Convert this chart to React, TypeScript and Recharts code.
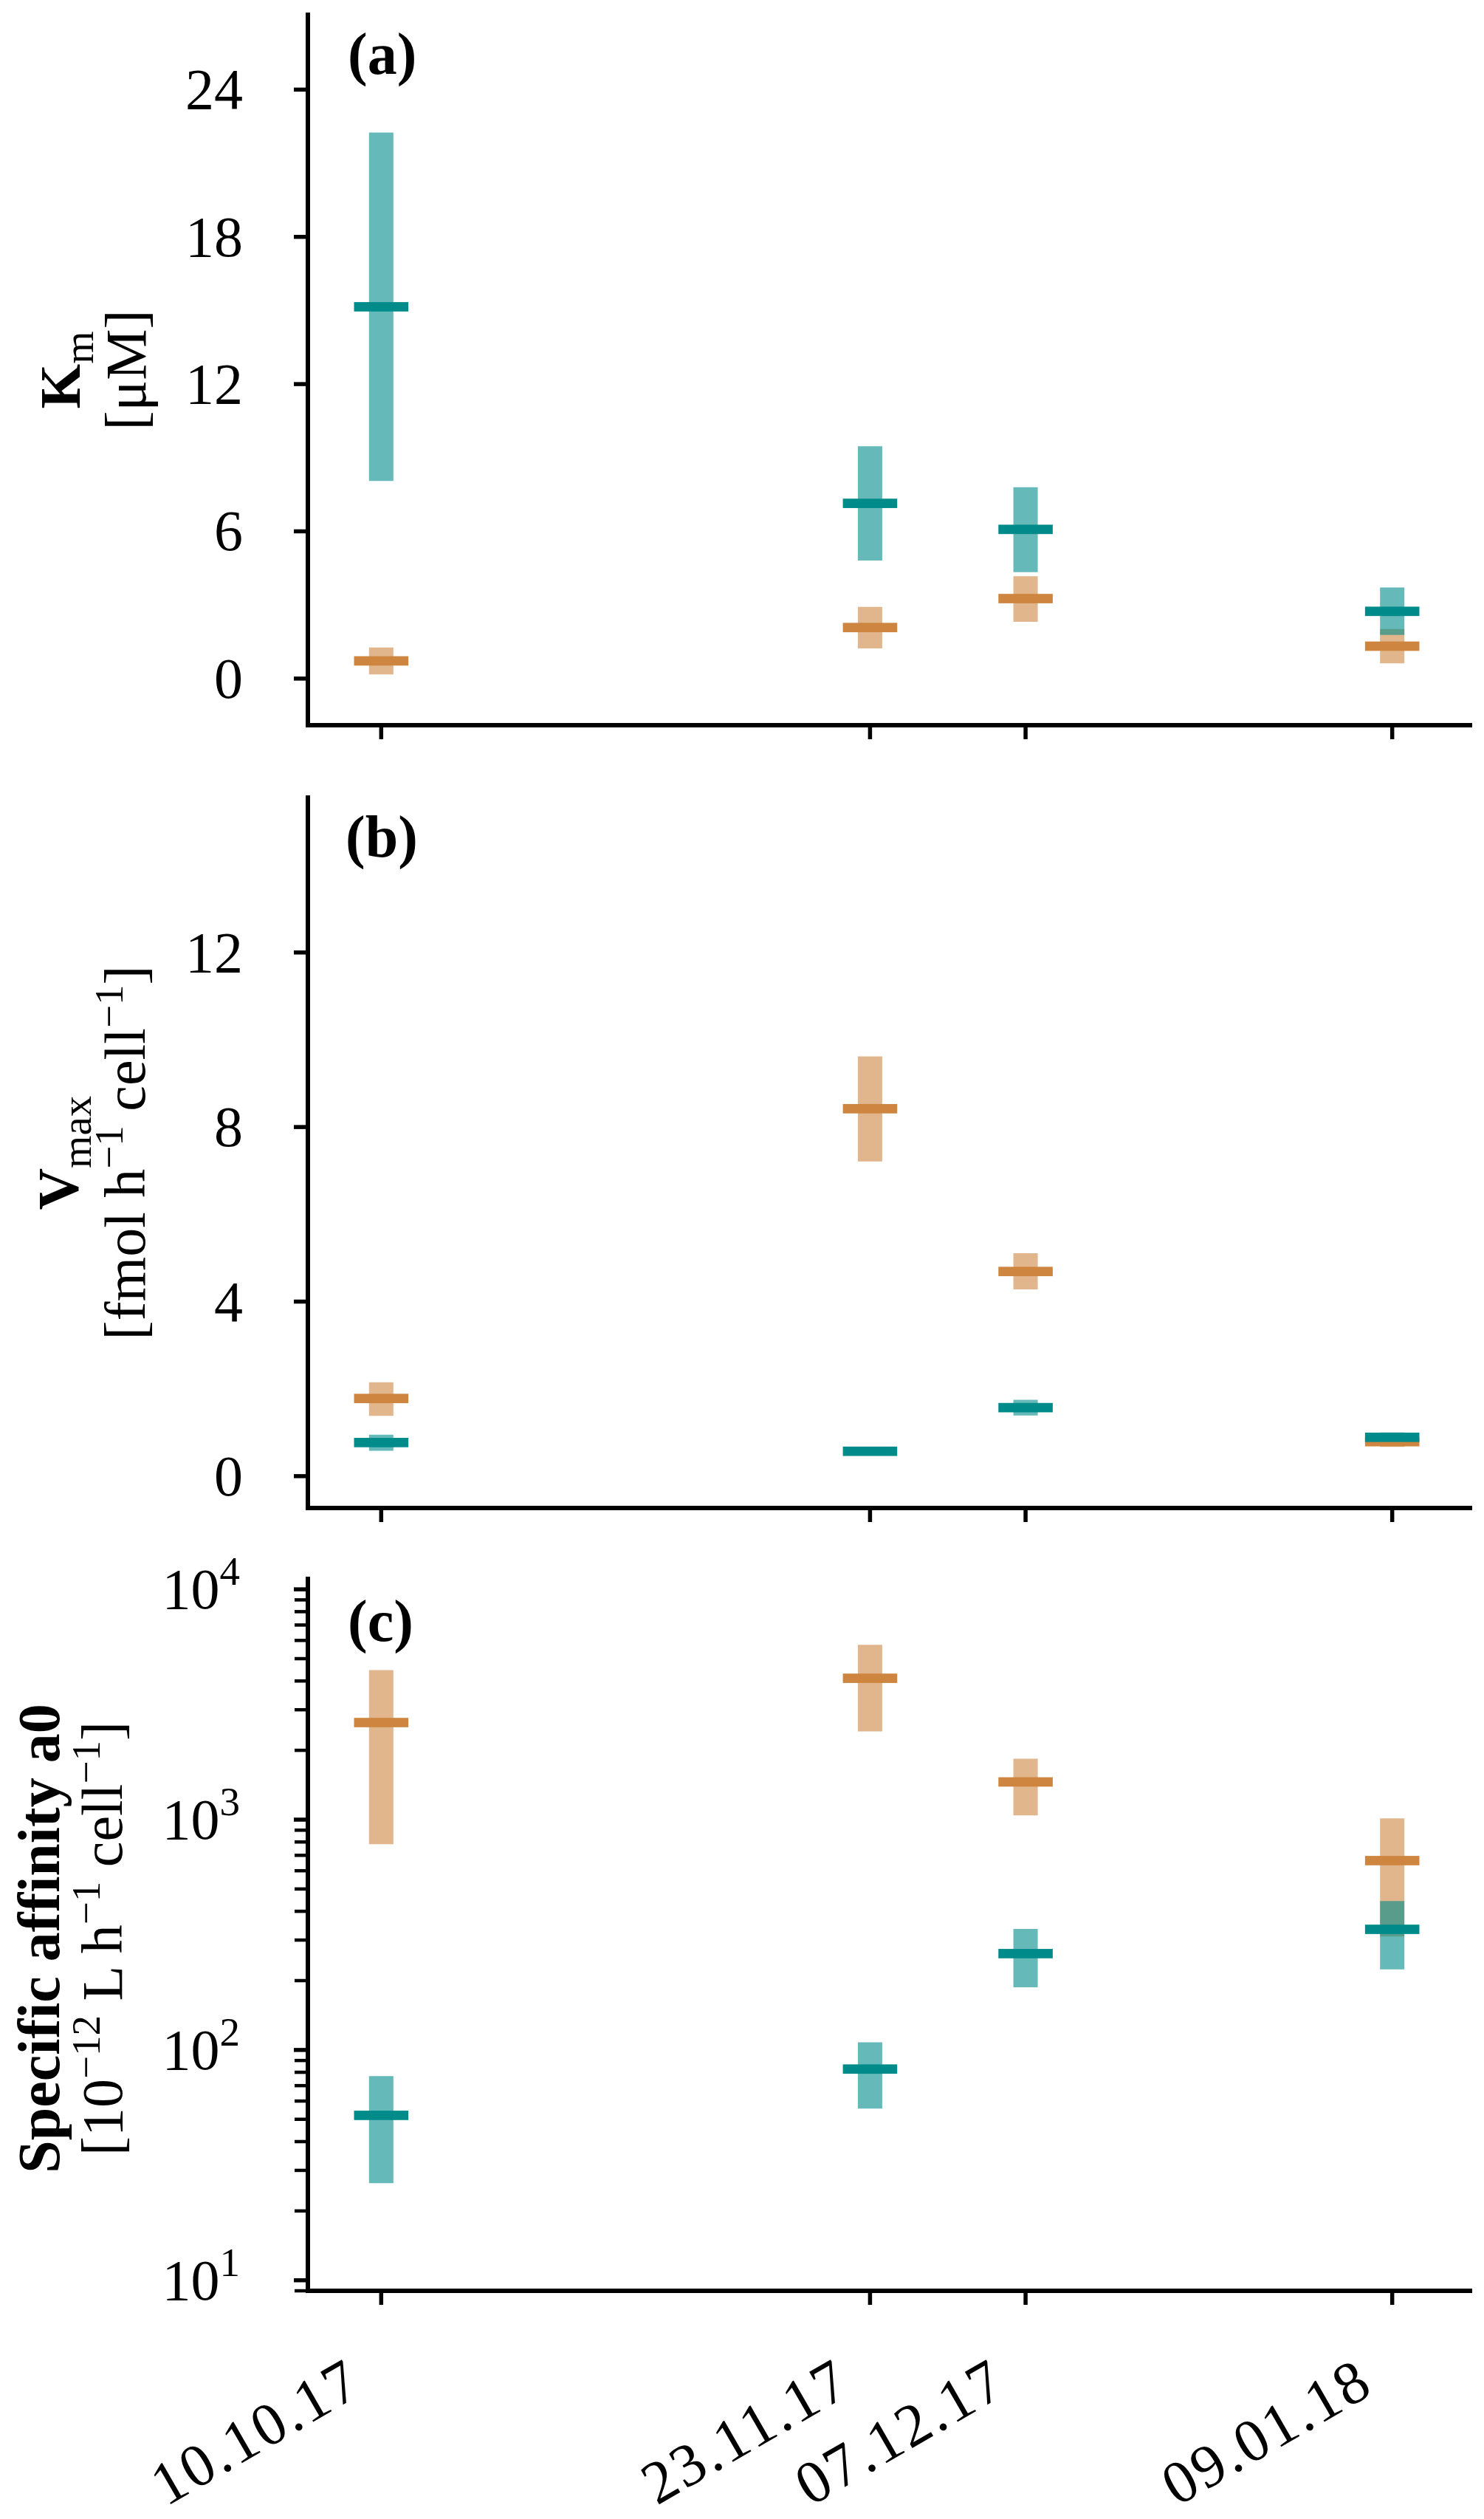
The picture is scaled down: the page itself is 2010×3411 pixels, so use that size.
import React from 'react';
import { ComposedChart, Scatter, ErrorBar, XAxis, YAxis } from 'recharts';

/* --- data --- */
const dates = ['10.10.17', '23.11.17', '07.12.17', '09.01.18'];
const days = [0, 44, 58, 91];

// (a) Km [uM]
const kmTealMed = [15.15, 7.14, 6.08, 2.74];
const kmTealLow = [8.05, 4.81, 4.34, 1.78];
const kmTealHigh = [22.25, 9.47, 7.8, 3.71];
const kmOrangeMed = [0.72, 2.08, 3.26, 1.32];
const kmOrangeLow = [0.17, 1.23, 2.31, 0.62];
const kmOrangeHigh = [1.27, 2.92, 4.17, 2.02];

// (b) Vmax [fmol h-1 cell-1]
const vmaxTealMed = [0.77, 0.57, 1.57, 0.89];
const vmaxTealLow = [0.58, 0.53, 1.39, 0.86];
const vmaxTealHigh = [0.95, 0.61, 1.75, 1.0];
const vmaxOrangeMed = [1.78, 8.42, 4.69, 0.79];
const vmaxOrangeLow = [1.38, 7.21, 4.28, 0.67];
const vmaxOrangeHigh = [2.15, 9.62, 5.11, 0.84];

// (c) specific affinity a0 [1e-12 L h-1 cell-1]
const affTealMed = [52, 82.6, 262, 334];
const affTealLow = [26.4, 55.6, 187, 224];
const affTealHigh = [77, 108, 335, 443];
const affOrangeMed = [2640, 4110, 1458, 664];
const affOrangeLow = [782, 2415, 1044, 311];
const affOrangeHigh = [4460, 5740, 1840, 1013];

const kmTicks = [0, 6, 12, 18, 24];
const vmaxTicks = [0, 4, 8, 12];
const affMajorTicks = [10, 100, 1000, 10000];
const affMinorTicks = [
    9, 20, 30, 40, 50, 60, 70, 80, 90,
    200, 300, 400, 500, 600, 700, 800, 900,
    2000, 3000, 4000, 5000, 6000, 7000, 8000, 9000,
];

/* --- styling --- */
const TEAL = '#008B8B';
const ORANGE = '#CD853F';
const FONT = '"Liberation Serif", "Times New Roman", serif';
const FS = 78;

const rows = (med: number[], low: number[], high: number[]) =>
    days.map((d, i) => ({ day: d, med: med[i], err: [med[i] - low[i], high[i] - med[i]] }));

const MedianShape = (color: string) => (props: any) => {
    if (props.cx == null || props.cy == null) return <g />;
    return <rect x={props.cx - 36.8} y={props.cy - 6.35} width={73.6} height={12.7} fill={color} />;
};
const NoShape = () => <g />;

const LinearTick = (props: any) => {
    const { x, y, payload } = props;
    return (
        <g>
            <line x1={x - 19} x2={x} y1={y} y2={y} stroke="#000" strokeWidth={5.5} />
            <text x={x - 88} y={y + 26} textAnchor="end" fontSize={FS} fontFamily={FONT} fill="#000">
                {payload.value}
            </text>
        </g>
    );
};

const LogTick = (props: any) => {
    const { x, y, payload } = props;
    const major = affMajorTicks.includes(payload.value);
    if (!major) {
        return <line x1={x - 18} x2={x} y1={y} y2={y} stroke="#000" strokeWidth={4.5} />;
    }
    const exp = Math.round(Math.log10(payload.value));
    return (
        <g>
            <line x1={x - 19} x2={x} y1={y} y2={y} stroke="#000" strokeWidth={5.5} />
            <text x={x - 92} y={y + 26} textAnchor="end" fontSize={FS} fontFamily={FONT} fill="#000">
                <tspan>10</tspan>
                <tspan dy={-32} fontSize={55}>{exp}</tspan>
            </text>
        </g>
    );
};

const DateTick = (showLabel: boolean) => (props: any) => {
    const { x, y, payload } = props;
    const idx = days.indexOf(payload.value);
    const lx = x - 22;
    const ly = y + 137;
    return (
        <g>
            <line x1={x} x2={x} y1={y} y2={y + 19} stroke="#000" strokeWidth={5.5} />
            {showLabel && (
                <text x={lx} y={ly} transform={`rotate(-30 ${lx} ${ly})`} textAnchor="end"
                    fontSize={82} letterSpacing={3} fontFamily={FONT} fill="#000">
                    {dates[idx]}
                </text>
            )}
        </g>
    );
};

const labelA = () => (
    <g fontFamily={FONT} fill="#000">
        <text x={108} y={501} transform="rotate(-90 108 501)" textAnchor="middle" fontSize={78} fontWeight="bold">
            <tspan>K</tspan>
            <tspan dy={18} fontSize={57} fontWeight="normal">m</tspan>
        </text>
        <text x={197} y={501} transform="rotate(-90 197 501)" textAnchor="middle" fontSize={FS}>
            [μM]
        </text>
        <text x={471} y={100} fontSize={80} fontWeight="bold">(a)</text>
    </g>
);

const labelB = () => (
    <g fontFamily={FONT} fill="#000">
        <text x={105} y={501} transform="rotate(-90 105 501)" textAnchor="middle" fontSize={78} fontWeight="bold">
            <tspan>V</tspan>
            <tspan dy={18} fontSize={57} fontWeight="normal">max</tspan>
        </text>
        <text x={196} y={501} transform="rotate(-90 196 501)" textAnchor="middle" fontSize={FS}>
            <tspan>[fmol h</tspan>
            <tspan dy={-30} fontSize={55}>−1</tspan>
            <tspan dy={30}> cell</tspan>
            <tspan dy={-30} fontSize={55}>−1</tspan>
            <tspan dy={30}>]</tspan>
        </text>
        <text x={468} y={100} fontSize={80} fontWeight="bold">(b)</text>
    </g>
);

const labelC = () => (
    <g fontFamily={FONT} fill="#000">
        <text x={80} y={545} transform="rotate(-90 80 545)" textAnchor="middle" fontSize={80} fontWeight="bold">
            Specific affinity a0
        </text>
        <text x={165} y={545} transform="rotate(-90 165 545)" textAnchor="middle" fontSize={FS}>
            <tspan>[10</tspan>
            <tspan dy={-30} fontSize={55}>−12</tspan>
            <tspan dy={30}> L h</tspan>
            <tspan dy={-30} fontSize={55}>−1</tspan>
            <tspan dy={30}> cell</tspan>
            <tspan dy={-30} fontSize={55}>−1</tspan>
            <tspan dy={30}>]</tspan>
        </text>
        <text x={471} y={142} fontSize={80} fontWeight="bold">(c)</text>
    </g>
);

interface PanelProps {
    top: number;
    height: number;
    marginTop: number;
    marginBottom: number;
    xAxisHeight: number;
    yDomain: [number, number];
    yTicks: number[];
    log?: boolean;
    showDates?: boolean;
    tealMed: number[]; tealLow: number[]; tealHigh: number[];
    orangeMed: number[]; orangeLow: number[]; orangeHigh: number[];
    label: () => React.ReactElement;
}

const Panel: React.FC<PanelProps> = (p) => {
    const teal = rows(p.tealMed, p.tealLow, p.tealHigh);
    const orange = rows(p.orangeMed, p.orangeLow, p.orangeHigh);
    return (
        <div style={{ position: 'absolute', left: 0, top: p.top, width: 2010, height: p.height }}>
            <ComposedChart width={2010} height={p.height}
                margin={{ top: p.marginTop, right: 19, bottom: p.marginBottom, left: 0 }}>
                <XAxis type="number" dataKey="day" domain={[-6.6, 98]} allowDataOverflow
                    ticks={days} interval={0} height={p.xAxisHeight}
                    tickSize={0} tickMargin={0} tickLine={false}
                    axisLine={{ stroke: '#000', strokeWidth: 6, strokeLinecap: 'square' }}
                    tick={DateTick(!!p.showDates)} />
                <YAxis type="number" dataKey="med" width={417}
                    scale={p.log ? 'log' : 'linear'} domain={p.yDomain} allowDataOverflow
                    ticks={p.yTicks} interval={0}
                    tickSize={0} tickMargin={0} tickLine={false}
                    axisLine={{ stroke: '#000', strokeWidth: 6, strokeLinecap: 'square' }}
                    tick={p.log ? LogTick : LinearTick}
                    label={p.label} />
                <Scatter data={orange} shape={NoShape} isAnimationActive={false}>
                    <ErrorBar dataKey="err" direction="y" width={0} strokeWidth={33}
                        stroke={ORANGE} strokeOpacity={0.6} isAnimationActive={false} />
                </Scatter>
                <Scatter data={orange} shape={MedianShape(ORANGE)} isAnimationActive={false} />
                <Scatter data={teal} shape={NoShape} isAnimationActive={false}>
                    <ErrorBar dataKey="err" direction="y" width={0} strokeWidth={33}
                        stroke={TEAL} strokeOpacity={0.6} isAnimationActive={false} />
                </Scatter>
                <Scatter data={teal} shape={MedianShape(TEAL)} isAnimationActive={false} />
            </ComposedChart>
        </div>
    );
};

export default function App() {
    return (
        <div style={{ position: 'absolute', left: 0, top: 0, width: 2010, height: 3411, background: '#fff' }}>
            <Panel top={0} height={1060} marginTop={20} marginBottom={18} xAxisHeight={60}
                yDomain={[-1.9, 27.05]} yTicks={kmTicks}
                tealMed={kmTealMed} tealLow={kmTealLow} tealHigh={kmTealHigh}
                orangeMed={kmOrangeMed} orangeLow={kmOrangeLow} orangeHigh={kmOrangeHigh}
                label={labelA} />
            <Panel top={1060} height={1060} marginTop={20} marginBottom={18} xAxisHeight={60}
                yDomain={[-0.73, 15.55]} yTicks={vmaxTicks}
                tealMed={vmaxTealMed} tealLow={vmaxTealLow} tealHigh={vmaxTealHigh}
                orangeMed={vmaxOrangeMed} orangeLow={vmaxOrangeLow} orangeHigh={vmaxOrangeHigh}
                label={labelB} />
            <Panel top={2080} height={1331} marginTop={58} marginBottom={9} xAxisHeight={300}
                yDomain={[9, 11100]} yTicks={[...affMinorTicks, ...affMajorTicks]} log showDates
                tealMed={affTealMed} tealLow={affTealLow} tealHigh={affTealHigh}
                orangeMed={affOrangeMed} orangeLow={affOrangeLow} orangeHigh={affOrangeHigh}
                label={labelC} />
        </div>
    );
}
